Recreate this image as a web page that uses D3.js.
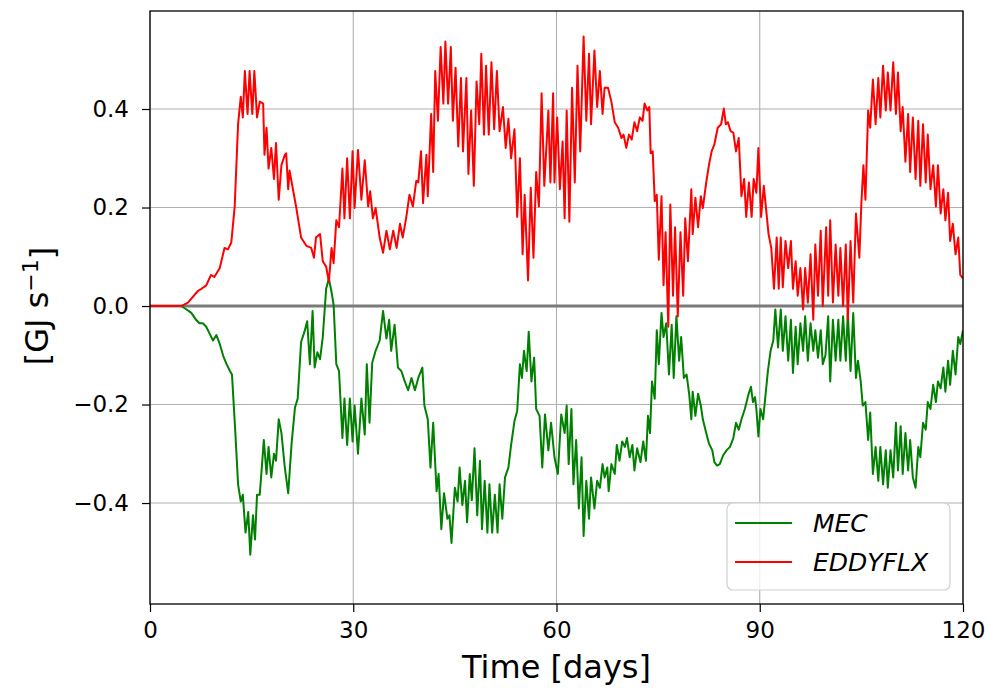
<!DOCTYPE html>
<html>
<head>
<meta charset="utf-8">
<script src="https://cdn.jsdelivr.net/npm/d3@7"></script>
<style>
  html, body { margin: 0; padding: 0; background: #fff; }
  svg { display: block; font-family: "DejaVu Sans", sans-serif; }
</style>
</head>
<body>
<svg id="chart" width="988" height="688"></svg>
<script>
// ---- data ----
const seriesNames = ["MEC", "EDDYFLX"];
const xTicks = [0, 30, 60, 90, 120];
const yTicks = [-0.4, -0.2, 0.0, 0.2, 0.4];

// [day, GJ/s]
const mecPoints = [
[0,0],[2,0],[4.6,0],[5.4,-0.007],[6.1,-0.014],[6.8,-0.028],[7.3,-0.035],[7.8,-0.035],[8.3,-0.042],[8.8,-0.056],
[9.3,-0.07],[9.8,-0.059],[10.3,-0.077],[10.8,-0.101],[11.3,-0.118],[11.8,-0.132],[12.1,-0.139],[12.6,-0.258],[13.0,-0.362],[13.4,-0.397],
[13.7,-0.383],[14.1,-0.46],[14.5,-0.418],[14.8,-0.505],[15.2,-0.425],[15.5,-0.474],[15.8,-0.383],[16.2,-0.383],[16.5,-0.328],[16.8,-0.272],
[17.2,-0.341],[17.5,-0.286],[17.9,-0.348],[18.3,-0.3],[18.6,-0.314],[19.0,-0.23],[19.4,-0.258],[19.9,-0.328],[20.4,-0.38],[20.9,-0.279],
[21.4,-0.206],[21.8,-0.188],[22.3,-0.073],[22.8,-0.052],[23.2,-0.031],[23.6,-0.118],[24.0,-0.01],[24.3,-0.125],[24.7,-0.094],[25.1,-0.108],
[25.5,-0.063],[26.0,0.035],[26.4,0.056],[26.8,0.028],[27.1,0.003],[27.5,-0.118],[27.9,-0.132],[28.4,-0.268],[28.7,-0.188],[29.1,-0.282],
[29.5,-0.188],[29.9,-0.275],[30.2,-0.202],[30.7,-0.3],[31.2,-0.188],[31.7,-0.261],[32.0,-0.118],[32.4,-0.237],[32.8,-0.115],[33.3,-0.091],
[33.9,-0.07],[34.4,-0.01],[34.9,-0.066],[35.3,-0.028],[35.6,-0.091],[36.1,-0.038],[36.6,-0.125],[37.1,-0.132],[37.6,-0.153],[38.1,-0.171],
[38.6,-0.146],[39.1,-0.171],[39.6,-0.146],[40.2,-0.125],[40.5,-0.202],[41.0,-0.23],[41.4,-0.328],[41.8,-0.237],[42.3,-0.376],[42.6,-0.341],
[43.0,-0.453],[43.4,-0.38],[43.9,-0.432],[44.2,-0.425],[44.5,-0.481],[45.0,-0.369],[45.4,-0.397],[45.7,-0.328],[46.1,-0.404],[46.5,-0.355],
[46.8,-0.439],[47.2,-0.341],[47.5,-0.394],[47.9,-0.289],[48.3,-0.425],[48.7,-0.314],[49.0,-0.453],[49.4,-0.355],[49.8,-0.46],[50.1,-0.362],
[50.5,-0.46],[50.9,-0.383],[51.3,-0.46],[51.6,-0.362],[52.0,-0.432],[52.4,-0.348],[52.9,-0.328],[53.3,-0.282],[53.8,-0.233],[54.2,-0.213],
[54.6,-0.118],[54.9,-0.146],[55.2,-0.091],[55.6,-0.132],[55.9,-0.052],[56.3,-0.153],[56.7,-0.105],[57.0,-0.209],[57.5,-0.223],[57.9,-0.328],
[58.3,-0.22],[58.8,-0.293],[59.2,-0.237],[59.7,-0.307],[60.2,-0.341],[60.7,-0.22],[61.2,-0.258],[61.5,-0.202],[61.8,-0.321],[62.2,-0.209],
[62.5,-0.362],[62.9,-0.272],[63.3,-0.411],[63.7,-0.307],[64.0,-0.467],[64.4,-0.355],[64.8,-0.432],[65.1,-0.348],[65.6,-0.411],[66.0,-0.355],
[66.4,-0.369],[66.8,-0.321],[67.1,-0.348],[67.5,-0.328],[67.7,-0.376],[68.1,-0.321],[68.6,-0.341],[68.9,-0.282],[69.3,-0.314],[69.7,-0.275],
[70.1,-0.286],[70.4,-0.268],[70.8,-0.307],[71.2,-0.282],[71.5,-0.334],[71.9,-0.289],[72.4,-0.317],[72.8,-0.275],[73.2,-0.314],[73.5,-0.223],
[73.8,-0.258],[74.1,-0.153],[74.5,-0.188],[74.8,-0.049],[75.1,-0.118],[75.5,-0.014],[75.8,-0.063],[76.2,-0.035],[76.6,-0.139],[77.0,-0.038],
[77.3,-0.146],[77.7,-0.021],[78.1,-0.111],[78.4,-0.063],[78.8,-0.146],[79.2,-0.139],[79.6,-0.181],[79.9,-0.23],[80.1,-0.174],[80.5,-0.223],
[80.9,-0.178],[81.3,-0.202],[81.6,-0.23],[82.1,-0.258],[82.5,-0.279],[83.0,-0.293],[83.3,-0.317],[83.7,-0.324],[84.1,-0.321],[84.6,-0.303],
[85.1,-0.293],[85.6,-0.286],[86.1,-0.268],[86.5,-0.237],[86.9,-0.251],[87.3,-0.23],[87.8,-0.209],[88.3,-0.181],[88.7,-0.164],[89.0,-0.195],
[89.3,-0.185],[89.5,-0.209],[89.8,-0.265],[90.1,-0.209],[90.5,-0.23],[90.8,-0.188],[91.2,-0.132],[91.6,-0.091],[92.0,-0.07],[92.3,-0.007],
[92.7,-0.084],[93.1,-0.007],[93.4,-0.091],[93.8,-0.021],[94.2,-0.111],[94.6,-0.028],[94.9,-0.136],[95.3,-0.042],[95.6,-0.118],[96.0,-0.035],
[96.4,-0.091],[96.7,-0.021],[97.1,-0.111],[97.5,-0.035],[97.9,-0.091],[98.2,-0.049],[98.6,-0.105],[99.0,-0.049],[99.3,-0.118],[99.7,-0.1],
[100.1,-0.021],[100.4,-0.153],[100.8,-0.028],[101.2,-0.111],[101.6,-0.028],[101.9,-0.111],[102.3,-0.021],[102.7,-0.111],[103.0,-0.014],[103.4,-0.132],
[103.8,-0.014],[104.2,-0.146],[104.5,-0.111],[104.9,-0.153],[105.2,-0.202],[105.6,-0.195],[106.0,-0.272],[106.3,-0.216],[106.7,-0.341],[107.1,-0.286],
[107.5,-0.355],[107.8,-0.286],[108.2,-0.362],[108.6,-0.293],[108.9,-0.369],[109.3,-0.293],[109.7,-0.348],[110.1,-0.237],[110.4,-0.334],[110.8,-0.244],
[111.1,-0.341],[111.5,-0.258],[111.9,-0.334],[112.2,-0.272],[112.6,-0.348],[113.0,-0.369],[113.4,-0.286],[113.7,-0.307],[114.1,-0.237],[114.5,-0.251],
[114.8,-0.195],[115.2,-0.209],[115.6,-0.16],[116.0,-0.195],[116.3,-0.153],[116.7,-0.167],[117.1,-0.125],[117.4,-0.174],[117.8,-0.111],[118.1,-0.16],
[118.5,-0.091],[118.9,-0.139],[119.3,-0.063],[119.6,-0.077],[120.0,-0.049]
];

const eddyPoints = [
[0,0],[2,0],[4.6,0],[5.6,0.007],[7.1,0.031],[7.6,0.035],[8.3,0.042],[9.0,0.063],[9.5,0.059],[10.3,0.077],
[11.0,0.118],[11.5,0.115],[12.0,0.129],[12.5,0.202],[13.0,0.369],[13.4,0.425],[13.7,0.383],[14.0,0.477],[14.4,0.39],[14.7,0.477],
[15.1,0.39],[15.4,0.477],[15.8,0.383],[16.2,0.415],[16.7,0.411],[16.9,0.307],[17.2,0.362],[17.5,0.279],[17.9,0.321],[18.3,0.258],
[18.6,0.331],[19.0,0.216],[19.4,0.286],[19.9,0.307],[20.1,0.31],[20.4,0.237],[20.6,0.275],[21.6,0.199],[22.3,0.139],[23.1,0.122],
[23.8,0.118],[24.2,0.098],[24.5,0.139],[25.1,0.146],[25.5,0.091],[26.0,0.08],[26.4,0.049],[26.8,0.118],[27.1,0.087],[27.5,0.174],
[27.9,0.16],[28.4,0.279],[28.7,0.178],[29.1,0.3],[29.5,0.178],[29.9,0.314],[30.2,0.199],[30.7,0.317],[31.2,0.216],[31.7,0.296],
[32.2,0.202],[32.5,0.233],[32.9,0.178],[33.3,0.199],[33.9,0.139],[34.4,0.108],[34.9,0.153],[35.4,0.115],[35.9,0.153],[36.4,0.118],
[36.9,0.167],[37.3,0.139],[37.8,0.178],[38.3,0.226],[38.8,0.202],[39.3,0.254],[39.6,0.251],[40.0,0.314],[40.3,0.209],[40.8,0.307],
[41.0,0.223],[41.5,0.39],[41.8,0.272],[42.1,0.477],[42.5,0.376],[42.9,0.526],[43.3,0.411],[43.6,0.537],[44.0,0.411],[44.4,0.526],
[44.7,0.376],[45.1,0.484],[45.5,0.324],[45.9,0.463],[46.2,0.314],[46.7,0.463],[47.0,0.268],[47.4,0.397],[47.8,0.244],[48.2,0.456],
[48.6,0.369],[48.9,0.512],[49.3,0.348],[49.6,0.488],[50.0,0.348],[50.4,0.495],[50.8,0.359],[51.2,0.477],[51.6,0.355],[52.1,0.404],
[52.5,0.321],[52.9,0.38],[53.3,0.3],[53.8,0.359],[54.2,0.181],[54.6,0.3],[55.0,0.105],[55.3,0.226],[55.8,0.052],[56.2,0.24],
[56.6,0.098],[57.0,0.272],[57.4,0.202],[57.8,0.432],[58.2,0.244],[58.8,0.397],[59.1,0.251],[59.5,0.432],[59.7,0.251],[60.1,0.383],
[60.5,0.237],[60.9,0.334],[61.2,0.178],[61.5,0.397],[61.9,0.171],[62.3,0.443],[62.7,0.251],[63.1,0.488],[63.5,0.314],[64.0,0.547],
[64.4,0.376],[64.8,0.512],[65.1,0.369],[65.6,0.519],[66.0,0.404],[66.4,0.477],[66.8,0.39],[67.1,0.443],[67.6,0.443],[68.1,0.415],
[68.6,0.373],[69.1,0.362],[69.6,0.341],[69.9,0.348],[70.3,0.321],[70.7,0.348],[71.1,0.338],[71.5,0.373],[71.9,0.355],[72.3,0.383],
[72.7,0.376],[73.0,0.411],[73.4,0.397],[73.7,0.404],[73.9,0.31],[74.2,0.314],[74.5,0.213],[74.8,0.226],[75.1,0.094],[75.5,0.223],
[75.8,0.042],[76.1,0.15],[76.5,-0.042],[76.8,0.206],[77.2,0.021],[77.5,0.16],[77.9,-0.021],[78.3,0.15],[78.7,0.021],[79.0,0.178],
[79.4,0.091],[79.9,0.237],[80.1,0.146],[80.5,0.22],[80.9,0.16],[81.3,0.223],[81.6,0.199],[82.1,0.251],[82.5,0.286],[82.9,0.314],
[83.3,0.328],[83.8,0.362],[84.3,0.369],[84.7,0.401],[85.0,0.369],[85.3,0.373],[85.7,0.355],[86.1,0.352],[86.5,0.314],[86.9,0.341],
[87.3,0.223],[87.7,0.258],[88.0,0.181],[88.4,0.251],[88.8,0.181],[89.1,0.258],[89.5,0.23],[89.8,0.321],[90.2,0.181],[90.6,0.244],
[91.0,0.188],[91.3,0.146],[91.7,0.118],[92.1,0.035],[92.5,0.139],[92.8,0.035],[93.1,0.139],[93.4,0.038],[93.8,0.132],[94.2,0.077],
[94.6,0.132],[94.9,0.035],[95.3,0.091],[95.6,0.021],[96.0,0.077],[96.4,-0.007],[96.7,0.077],[97.1,0.007],[97.5,0.105],[97.9,-0.028],
[98.2,0.125],[98.6,0.021],[99.0,0.153],[99.3,0],[99.8,0.16],[100.1,0.021],[100.4,0.174],[100.8,0.007],[101.2,0.125],[101.6,0.021],
[101.9,0.118],[102.3,0],[102.7,0.125],[103.0,-0.028],[103.4,0.132],[103.8,0.007],[104.2,0.188],[104.7,0.098],[105.0,0.209],[105.3,0.286],
[105.6,0.216],[106.0,0.397],[106.3,0.362],[106.7,0.46],[107.1,0.369],[107.5,0.463],[107.8,0.383],[108.2,0.488],[108.6,0.397],[108.9,0.474],
[109.3,0.397],[109.7,0.495],[110.1,0.39],[110.4,0.474],[110.8,0.355],[111.1,0.404],[111.5,0.293],[111.9,0.39],[112.2,0.272],[112.6,0.383],
[113.0,0.258],[113.4,0.376],[113.7,0.244],[114.1,0.369],[114.5,0.251],[114.8,0.348],[115.2,0.237],[115.6,0.286],[116.0,0.202],[116.3,0.286],
[116.7,0.188],[117.1,0.237],[117.4,0.174],[117.8,0.23],[118.1,0.132],[118.5,0.167],[118.9,0.105],[119.3,0.139],[119.6,0.063],[120.0,0.056]
];

const seriesColors = ["#008000", "#ff0000"];

// ---- layout ----
const plot = { left: 150, right: 963, top: 11, bottom: 604 };
const svg = d3.select("#chart");

const x = d3.scaleLinear().domain([0, 120]).range([plot.left, plot.right]);
const y = d3.scaleLinear().domain([-0.605, 0.599]).range([plot.bottom, plot.top]);

svg.append("defs").append("clipPath").attr("id", "clip")
  .append("rect").attr("x", plot.left).attr("y", plot.top)
  .attr("width", plot.right - plot.left).attr("height", plot.bottom - plot.top);

// grid
const grid = svg.append("g").attr("stroke", "#b0b0b0").attr("stroke-width", 1.1);
grid.selectAll("line.vx").data(xTicks).join("line")
  .attr("x1", d => x(d)).attr("x2", d => x(d)).attr("y1", plot.top).attr("y2", plot.bottom);
grid.selectAll("line.hy").data(yTicks).join("line")
  .attr("y1", d => y(d)).attr("y2", d => y(d)).attr("x1", plot.left).attr("x2", plot.right);

// zero line
svg.append("line")
  .attr("x1", plot.left).attr("x2", plot.right)
  .attr("y1", y(0)).attr("y2", y(0))
  .attr("stroke", "#7a7a7a").attr("stroke-width", 2.8);

// series
const line = d3.line().x(d => x(d[0])).y(d => y(d[1]));
const lines = svg.append("g").attr("clip-path", "url(#clip)");
[mecPoints, eddyPoints].forEach((pts, i) => {
  lines.append("path").datum(pts)
    .attr("d", line).attr("fill", "none")
    .attr("stroke", seriesColors[i]).attr("stroke-width", 2)
    .attr("stroke-linejoin", "round");
});

// axes
const fmtY = d => (d < 0 ? "\u2212" : "") + Math.abs(d).toFixed(1);
const xAxis = svg.append("g").attr("transform", `translate(0,${plot.bottom})`)
  .call(d3.axisBottom(x).tickValues(xTicks).tickFormat(d3.format("d")).tickSize(8).tickPadding(10));
const yAxis = svg.append("g").attr("transform", `translate(${plot.left},0)`)
  .call(d3.axisLeft(y).tickValues(yTicks).tickFormat(fmtY).tickSize(8).tickPadding(13));
[xAxis, yAxis].forEach(a => {
  a.select(".domain").remove();
  a.selectAll(".tick line").attr("stroke", "#000").attr("stroke-width", 1.2);
  a.selectAll(".tick text").attr("fill", "#000").style("font-size", "23px")
    .style("font-family", "'DejaVu Sans', sans-serif");
});

// frame
svg.append("rect").attr("x", plot.left).attr("y", plot.top)
  .attr("width", plot.right - plot.left).attr("height", plot.bottom - plot.top)
  .attr("fill", "none").attr("stroke", "#000").attr("stroke-width", 1.3);

// axis labels
svg.append("text").attr("x", (plot.left + plot.right) / 2).attr("y", 678)
  .attr("text-anchor", "middle").style("font-size", "32px").attr("fill", "#000")
  .text("Time [days]");

const yl = svg.append("text")
  .attr("transform", `translate(48,${y(0)}) rotate(-90)`)
  .attr("text-anchor", "middle").style("font-size", "32px").attr("fill", "#000");
yl.append("tspan").text("[GJ s");
yl.append("tspan").attr("dy", "-0.45em").style("font-size", "22px").text("\u22121");
yl.append("tspan").attr("dy", "0.45em").text("]");

// legend
const lg = svg.append("g");
lg.append("rect").attr("x", 727).attr("y", 503).attr("width", 223).attr("height", 87)
  .attr("rx", 6).attr("fill", "#fff").attr("fill-opacity", 0.8)
  .attr("stroke", "#d0d0d0").attr("stroke-width", 1.2);
seriesNames.forEach((name, i) => {
  const cy = 523 + i * 39;
  lg.append("line").attr("x1", 735).attr("x2", 792).attr("y1", cy).attr("y2", cy)
    .attr("stroke", seriesColors[i]).attr("stroke-width", 2);
  lg.append("text").attr("x", 813).attr("y", cy + 9)
    .style("font-size", "25px").style("font-style", "italic").attr("fill", "#000")
    .text(name);
});
</script>
</body>
</html>
